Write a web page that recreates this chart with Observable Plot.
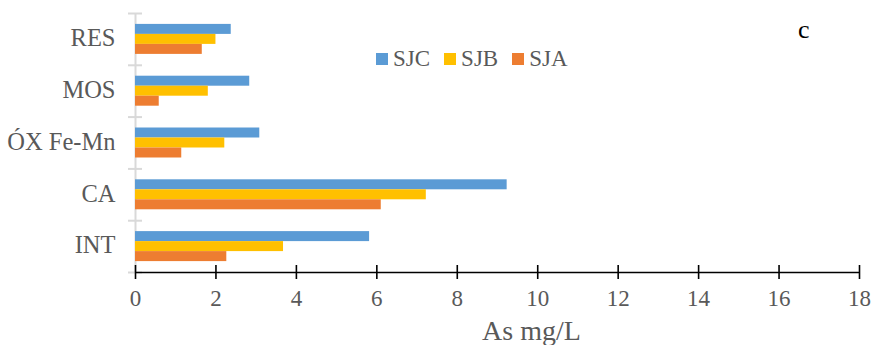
<!DOCTYPE html>
<html>
<head>
<meta charset="utf-8">
<script src="https://cdn.jsdelivr.net/npm/d3@7"></script>
<script src="https://cdn.jsdelivr.net/npm/@observablehq/plot@0.6"></script>
<style>
  html, body { margin: 0; padding: 0; background: #fff; }
  #chart { position: relative; width: 873px; height: 345px; font-family: "Liberation Serif", "Times New Roman", serif; }
  #legend { position: absolute; left: 376px; top: 46px; display: flex; align-items: center; font-size: 23px; color: #595959; }
  #legend .item { display: flex; align-items: center; margin-right: 14px; }
  #legend .sw { width: 12px; height: 12px; margin-right: 5px; }
  #panel { position: absolute; left: 798px; top: 15px; font-size: 26px; color: #000; }
</style>
</head>
<body>
<div id="chart"></div>
<script>
// Fractions of arsenic by extraction step, one bar per site
const categories = ["RES", "MOS", "ÓX Fe-Mn", "CA", "INT"];
const series = ["SJC", "SJB", "SJA"];
const colors = ["#5B9BD5", "#FFC000", "#ED7D31"];
const SJC = [2.38, 2.84, 3.09, 9.24, 5.82];
const SJB = [2.00, 1.81, 2.22, 7.23, 3.68];
const SJA = [1.66, 0.59, 1.15, 6.11, 2.27];
const xTicks = [0, 2, 4, 6, 8, 10, 12, 14, 16, 18];

const seriesValues = [SJC, SJB, SJA];
const rows = [];
categories.forEach((c, i) => {
  series.forEach((s, j) => rows.push({category: c, ci: i, series: s, sj: j, value: seriesValues[j][i]}));
});

// each category occupies one unit; the three bars fill the middle of it
const barH = 0.193;
const groupTop = -1.5 * barH;
const boundaries = d3.range(categories.length + 1).map(i => i - 0.5);

const font = "'Liberation Serif', 'Times New Roman', serif";

const plot = Plot.plot({
  width: 873,
  height: 345,
  marginLeft: 135,
  marginRight: 14,
  marginTop: 13,
  marginBottom: 73,
  style: {fontFamily: font, background: "#fff"},
  x: {type: "linear", domain: [0, 18]},
  y: {type: "linear", domain: [-0.5, categories.length - 0.5], reverse: true, axis: null},
  color: {domain: series, range: colors},
  marks: [
    // vertical category axis line and its boundary ticks
    Plot.ruleX([0], {stroke: "#d9d9d9", strokeWidth: 2}),
    Plot.axisY(boundaries, {anchor: "left", tickSize: 14, dx: 7, fill: "none", stroke: "#d9d9d9", strokeWidth: 2, label: null}),
    Plot.axisY(d3.range(categories.length), {
      anchor: "left", tickSize: 0, tickPadding: 20, fontSize: 24.5, fill: "#595959", dy: -1,
      tickFormat: i => categories[i], label: null
    }),
    Plot.rect(rows, {
      x1: 0,
      x2: "value",
      y1: d => d.ci + groupTop + d.sj * barH,
      y2: d => d.ci + groupTop + (d.sj + 1) * barH,
      fill: "series"
    }),
    // horizontal value axis
    Plot.ruleY([categories.length - 0.5], {stroke: "#000", strokeWidth: 1.6}),
    Plot.axisX(xTicks, {anchor: "bottom", tickSize: 14, dy: -7, fill: "none", stroke: "#000", strokeWidth: 1.6, label: null}),
    Plot.axisX(xTicks, {anchor: "bottom", tickSize: 0, tickPadding: 17, fontSize: 23, fill: "#595959", label: null}),
    Plot.text(["As mg/L"], {frameAnchor: "bottom", dx: 34, dy: 59, fontSize: 28, fill: "#595959", lineAnchor: "middle"})
  ]
});

const chart = document.getElementById("chart");
chart.appendChild(plot);

const legend = document.createElement("div");
legend.id = "legend";
series.forEach((s, j) => {
  const item = document.createElement("div");
  item.className = "item";
  const sw = document.createElement("span");
  sw.className = "sw";
  sw.style.background = colors[j];
  const label = document.createElement("span");
  label.textContent = s;
  item.appendChild(sw);
  item.appendChild(label);
  legend.appendChild(item);
});
chart.appendChild(legend);

const panel = document.createElement("div");
panel.id = "panel";
panel.textContent = "c";
chart.appendChild(panel);
</script>
</body>
</html>
